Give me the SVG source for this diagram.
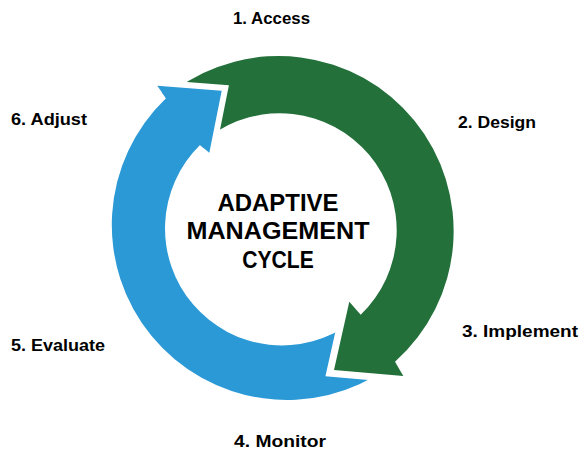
<svg xmlns="http://www.w3.org/2000/svg" width="581" height="451" viewBox="0 0 581 451">
  <style>
    .lbl { font-family: "Liberation Sans", Arial, sans-serif; font-weight: bold; font-size: 17px; fill: #000000; }
    .ctr { font-family: "Liberation Sans", Arial, sans-serif; font-weight: bold; font-size: 24px; fill: #000000; text-anchor: middle; }
    .green { fill: #23703A; }
    .blue { fill: #2A99D6; }
    .gap { fill: #FFFFFF; stroke: #FFFFFF; stroke-linejoin: miter; stroke-linecap: butt; }
  </style>
  <rect width="581" height="451" fill="#FFFFFF"/>
  <g id="connectors">
    <!-- blue arrow body (tail hidden under green head) -->
    <path class="blue" d="M 387.7 367.9 A 175 175 0 0 1 166 98.3 L 157.3 85.7 L 221.7 90.7 L 209.3 152.7 L 200 145 A 117 117 0 0 0 352 322.2 Z"/>
    <!-- white gap around green head -->
    <polygon class="gap" stroke-width="14" points="403.3,376 334,370 349.3,301.7"/>
    <!-- green arrow -->
    <path id="arrow-green" class="green" d="M 174.7 90.2 A 175 175 0 0 1 395 361.7 L 403.3 376 L 334 370 L 349.3 301.7 L 360.7 314.7 A 117 117 0 0 0 209.6 136.6 Z"/>
    <!-- white gap around blue head -->
    <polyline class="gap" stroke-width="12" points="157.3,85.7 221.7,90.7 209.3,152.7" style="fill:none"/>
    <!-- blue head on top -->
    <polygon id="arrow-blue-head" class="blue" points="166,98.3 157.3,85.7 221.7,90.7 209.3,152.7 200,145"/>
  </g>
  <g id="center">
    <text class="ctr"><tspan x="278" y="210.7" textLength="121" lengthAdjust="spacingAndGlyphs">ADAPTIVE</tspan><tspan x="278" y="239.3" textLength="183" lengthAdjust="spacingAndGlyphs">MANAGEMENT</tspan><tspan x="278" y="267.7" textLength="71.5" lengthAdjust="spacingAndGlyphs">CYCLE</tspan></text>
  </g>
  <g id="step1"><text class="lbl" x="233" y="24" textLength="77" lengthAdjust="spacingAndGlyphs">1. Access</text></g>
  <g id="step2"><text class="lbl" x="458" y="128" textLength="78" lengthAdjust="spacingAndGlyphs">2. Design</text></g>
  <g id="step3"><text class="lbl" x="462" y="337" textLength="116" lengthAdjust="spacingAndGlyphs">3. Implement</text></g>
  <g id="step4"><text class="lbl" x="234" y="447" textLength="92" lengthAdjust="spacingAndGlyphs">4. Monitor</text></g>
  <g id="step5"><text class="lbl" x="11" y="351" textLength="94" lengthAdjust="spacingAndGlyphs">5. Evaluate</text></g>
  <g id="step6"><text class="lbl" x="11" y="125" textLength="76" lengthAdjust="spacingAndGlyphs">6. Adjust</text></g>
</svg>
